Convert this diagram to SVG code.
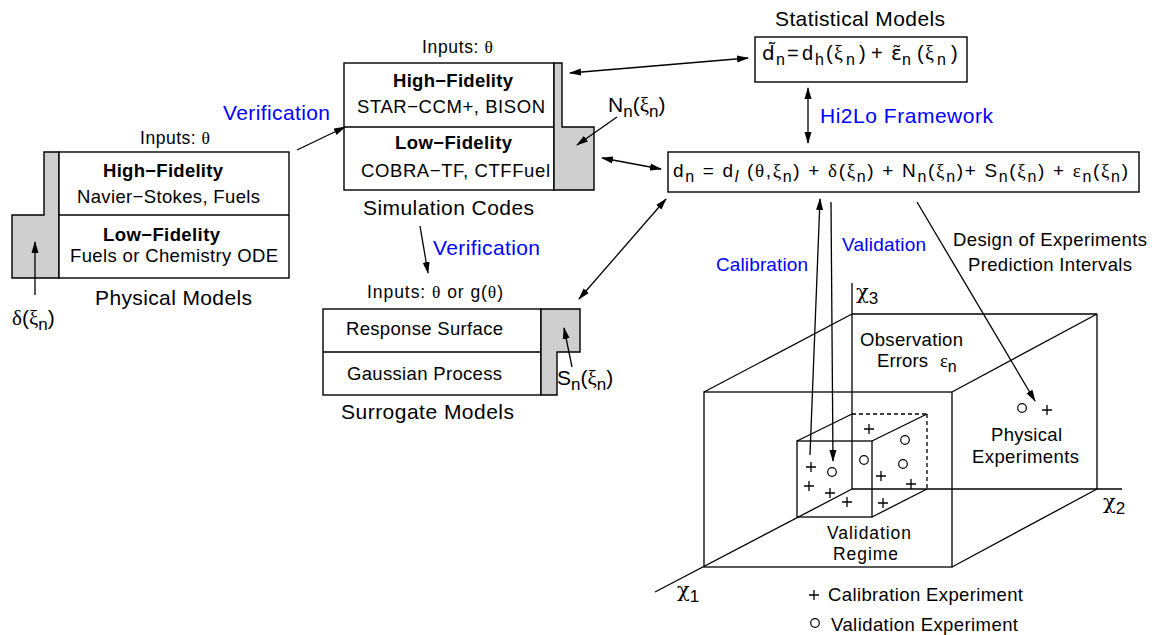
<svg xmlns="http://www.w3.org/2000/svg" width="1154" height="635" viewBox="0 0 1154 635">
<style>
text{font-family:'Liberation Sans',Arial,sans-serif;fill:#000}
.g{font-family:'Liberation Serif','DejaVu Serif',serif}
.dj{font-family:'DejaVu Sans',sans-serif}
.chi{font-family:'DejaVu Serif','Liberation Serif',serif}
.b{font-weight:bold}
.blue{fill:#0000ff}
.s17{font-size:17.5px}
.s18{font-size:18.5px}
.s19{font-size:19px}
.s21{font-size:21px}
.box{fill:#fff;stroke:#000;stroke-width:1.4}
.grey{fill:#cfcfcf;stroke:#000;stroke-width:1.4}
.ln{fill:none;stroke:#000;stroke-width:1.3}
.dash{fill:none;stroke:#000;stroke-width:1.3;stroke-dasharray:4 3}
.arr{fill:none;stroke:#000;stroke-width:1.3;marker-end:url(#ah)}
.arr2{fill:none;stroke:#000;stroke-width:1.3;marker-end:url(#ah);marker-start:url(#ahs)}
</style>
<defs>
<marker id="ah" viewBox="0 0 12 8" refX="11" refY="4" markerWidth="12" markerHeight="8" markerUnits="userSpaceOnUse" orient="auto"><path d="M0,0.5 L12,4 L0,7.5 Z" fill="#000"/></marker>
<marker id="ahs" viewBox="0 0 12 8" refX="1" refY="4" markerWidth="12" markerHeight="8" markerUnits="userSpaceOnUse" orient="auto"><path d="M12,0.5 L0,4 L12,7.5 Z" fill="#000"/></marker>
<path id="plus" d="M-5,0 H5 M0,-5 V5" fill="none" stroke="#000" stroke-width="1.3"/>
<circle id="circ" r="4.3" fill="none" stroke="#000" stroke-width="1.2"/>
</defs>

<g id="physical-models">
<path class="grey" d="M44,152 H59 V278 H12 V215 H44 Z"/>
<rect class="box" x="59" y="152" width="230" height="126"/>
<line class="ln" x1="59" y1="215" x2="289" y2="215"/>
<text class="s17" x="140" y="144" textLength="70">Inputs: <tspan class="g">θ</tspan></text>
<text class="s18 b" x="103" y="177" textLength="120">High−Fidelity</text>
<text class="s18" x="77" y="203" textLength="183">Navier−Stokes, Fuels</text>
<text class="s18 b" x="103" y="241" textLength="117">Low−Fidelity</text>
<text class="s18" x="70" y="262" textLength="208">Fuels or Chemistry ODE</text>
<text class="s21" x="95" y="305" textLength="157">Physical Models</text>
<text class="s21" x="12" y="325"><tspan class="g">δ</tspan>(<tspan class="g">ξ</tspan><tspan dy="5" font-size="17">n</tspan><tspan dy="-5">)</tspan></text>
</g>

<g id="simulation-codes">
<rect class="box" x="344" y="63" width="210" height="127"/>
<line class="ln" x1="344" y1="127" x2="554" y2="127"/>
<path class="grey" d="M554,63 H562 V127 H594 V190 H554 Z"/>
<text class="s17" x="422" y="53" textLength="71">Inputs: <tspan class="g">θ</tspan></text>
<text class="s18 b" x="393" y="87" textLength="120">High−Fidelity</text>
<text class="s18" x="357" y="113" textLength="188">STAR−CCM+, BISON</text>
<text class="s18 b" x="395" y="149" textLength="117">Low−Fidelity</text>
<text class="s18" x="361" y="177" textLength="189">COBRA−TF, CTFFuel</text>
<text class="s21" x="363" y="215" textLength="171">Simulation Codes</text>
<text class="s21" x="608" y="112"><tspan>N</tspan><tspan dy="5" font-size="17">n</tspan><tspan dy="-5">(</tspan><tspan class="g">ξ</tspan><tspan dy="5" font-size="17">n</tspan><tspan dy="-5">)</tspan></text>
</g>

<g id="surrogate-models">
<rect class="box" x="323" y="309" width="218" height="86"/>
<line class="ln" x1="323" y1="352" x2="541" y2="352"/>
<path class="grey" d="M541,309 H580 V352 H557 V395 H541 Z"/>
<text class="s17" x="367" y="298" textLength="136">Inputs: <tspan class="g">θ</tspan> or g(<tspan class="g">θ</tspan>)</text>
<text class="s18" x="346" y="335" textLength="157">Response Surface</text>
<text class="s18" x="347" y="380" textLength="155">Gaussian Process</text>
<text class="s21" x="341" y="419" textLength="173">Surrogate Models</text>
<text class="s21" x="557" y="385"><tspan>S</tspan><tspan dy="5" font-size="17">n</tspan><tspan dy="-5">(</tspan><tspan class="g">ξ</tspan><tspan dy="5" font-size="17">n</tspan><tspan dy="-5">)</tspan></text>
</g>

<g id="statistical-models">
<text class="s21" x="775" y="26" textLength="170">Statistical Models</text>
<rect class="box" x="755" y="37" width="212" height="45"/>
<text font-size="20" y="60"><tspan x="762" class="dj">d̃</tspan><tspan x="776" y="65" font-size="16">n</tspan><tspan x="787" y="60">=</tspan><tspan x="802">d</tspan><tspan x="815" y="65" font-size="16">h</tspan><tspan x="826" y="60">(</tspan><tspan x="834" class="g">ξ</tspan><tspan x="846" y="65" font-size="16">n</tspan><tspan x="859" y="60">)</tspan><tspan x="871">+</tspan><tspan x="891" class="dj">ε̃</tspan><tspan x="902" y="65" font-size="16">n</tspan><tspan x="917" y="60">(</tspan><tspan x="925" class="g">ξ</tspan><tspan x="937" y="65" font-size="16">n</tspan><tspan x="951" y="60">)</tspan></text>
</g>

<g id="model-equation">
<rect class="box" x="668" y="152" width="471" height="40"/>
<text class="s19" x="673" y="177" textLength="455">d<tspan dy="5" font-size="16">n</tspan><tspan dy="-5"> = </tspan>d<tspan dy="5" font-size="16" font-style="italic">l</tspan><tspan dy="-5"> (</tspan><tspan class="g">θ</tspan>,<tspan class="g">ξ</tspan><tspan dy="5" font-size="16">n</tspan><tspan dy="-5">)</tspan> + <tspan class="g">δ</tspan>(<tspan class="g">ξ</tspan><tspan dy="5" font-size="16">n</tspan><tspan dy="-5">)</tspan> + N<tspan dy="5" font-size="16">n</tspan><tspan dy="-5">(</tspan><tspan class="g">ξ</tspan><tspan dy="5" font-size="16">n</tspan><tspan dy="-5">)</tspan>+ S<tspan dy="5" font-size="16">n</tspan><tspan dy="-5">(</tspan><tspan class="g">ξ</tspan><tspan dy="5" font-size="16">n</tspan><tspan dy="-5">)</tspan> + <tspan class="g">ε</tspan><tspan dy="5" font-size="16">n</tspan><tspan dy="-5">(</tspan><tspan class="g">ξ</tspan><tspan dy="5" font-size="16">n</tspan><tspan dy="-5">)</tspan></text>
</g>

<g id="experiment-space">
<rect class="ln" x="704" y="392" width="248" height="175"/>
<line class="ln" x1="852" y1="314" x2="1097" y2="314"/>
<line class="ln" x1="1097" y1="314" x2="1097" y2="489"/>
<line class="ln" x1="852" y1="283" x2="852" y2="489"/>
<line class="ln" x1="852" y1="489" x2="1122" y2="489"/>
<line class="ln" x1="852" y1="489" x2="655" y2="592"/>
<line class="ln" x1="704" y1="392" x2="852" y2="314"/>
<line class="ln" x1="952" y1="392" x2="1097" y2="314"/>
<line class="ln" x1="952" y1="567" x2="1097" y2="489"/>
<text class="s21" x="856" y="299"><tspan class="chi">χ</tspan><tspan dy="5" font-size="17">3</tspan></text>
<text class="s21" x="1103" y="509"><tspan class="chi">χ</tspan><tspan dy="5" font-size="17">2</tspan></text>
<text class="s21" x="677" y="597"><tspan class="chi">χ</tspan><tspan dy="5" font-size="17">1</tspan></text>
<text class="s18" x="860" y="346" textLength="103">Observation</text>
<text class="s18" x="877" y="367" textLength="51">Errors</text>
<text class="s18" x="940" y="367"><tspan class="g">ε</tspan><tspan dy="5" font-size="16">n</tspan></text>
<text class="s18" x="991" y="441" textLength="71">Physical</text>
<text class="s18" x="972" y="463" textLength="107">Experiments</text>
<use href="#circ" x="1022" y="408"/>
<use href="#plus" x="1047" y="410"/>
</g>

<g id="validation-regime">
<rect class="ln" x="797" y="441" width="75" height="76"/>
<line class="ln" x1="797" y1="441" x2="852" y2="414"/>
<line class="ln" x1="872" y1="441" x2="927" y2="414"/>
<line class="ln" x1="872" y1="517" x2="927" y2="489"/>
<line class="dash" x1="852" y1="414" x2="927" y2="414"/>
<line class="dash" x1="927" y1="414" x2="927" y2="489"/>
<use href="#plus" x="811" y="467"/>
<use href="#plus" x="809" y="486"/>
<use href="#plus" x="830" y="493"/>
<use href="#plus" x="847" y="502"/>
<use href="#circ" x="832" y="472"/>
<use href="#plus" x="869" y="429"/>
<use href="#circ" x="905" y="440"/>
<use href="#circ" x="864" y="460"/>
<use href="#circ" x="903" y="464"/>
<use href="#plus" x="881" y="476"/>
<use href="#plus" x="911" y="484"/>
<use href="#plus" x="883" y="503"/>
<text class="s17" x="827" y="539" textLength="84">Validation</text>
<text class="s17" x="833" y="560" textLength="65">Regime</text>
</g>

<g id="legend">
<use href="#plus" x="814" y="595"/>
<text class="s18" x="828" y="601" textLength="195">Calibration Experiment</text>
<use href="#circ" x="815" y="623"/>
<text class="s18" x="831" y="631" textLength="187">Validation Experiment</text>
</g>

<g id="connectors">
<line class="arr" x1="297" y1="150" x2="345" y2="127"/>
<line class="arr2" x1="570" y1="73" x2="748" y2="58"/>
<line class="arr2" x1="602" y1="158" x2="661" y2="169"/>
<line class="arr" x1="617" y1="117" x2="577" y2="145"/>
<line class="arr" x1="420" y1="226" x2="428" y2="273"/>
<line class="arr2" x1="579" y1="299" x2="666" y2="199"/>
<line class="arr" x1="572" y1="367" x2="564" y2="328"/>
<line class="arr" x1="35" y1="295" x2="35" y2="242"/>
<line class="arr2" x1="808" y1="88" x2="808" y2="143"/>
<line class="arr" x1="810" y1="455" x2="820" y2="199"/>
<line class="arr" x1="831" y1="202" x2="833" y2="461"/>
<line class="arr" x1="917" y1="202" x2="1035" y2="401"/>
</g>

<g id="labels">
<text class="s21 blue" x="223" y="120" textLength="107">Verification</text>
<text class="s21 blue" x="433" y="255" textLength="107">Verification</text>
<text class="s21 blue" x="820" y="123" textLength="173">Hi2Lo Framework</text>
<text class="s19 blue" x="716" y="271" textLength="92">Calibration</text>
<text class="s19 blue" x="842" y="251" textLength="84">Validation</text>
<text class="s18" x="953" y="246" textLength="194">Design of Experiments</text>
<text class="s18" x="968" y="271" textLength="164">Prediction Intervals</text>
</g>
</svg>
